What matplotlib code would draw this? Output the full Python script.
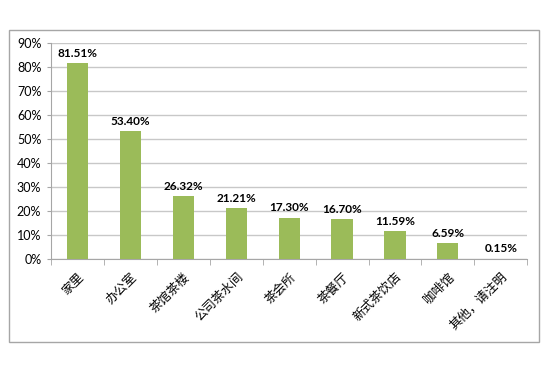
import matplotlib.pyplot as plt
from matplotlib.patches import Rectangle
import numpy as np

# data
categories = ['家里', '办公室', '茶馆茶楼', '公司茶水间', '茶会所', '茶餐厅',
              '新式茶饮店', '咖啡馆', '其他，请注明']
values = [81.51, 53.40, 26.32, 21.21, 17.30, 16.70, 11.59, 6.59, 0.15]
yticks = [0, 10, 20, 30, 40, 50, 60, 70, 80, 90]

bar_color = '#9BBB59'
grid_color = '#C8C8C8'

fig = plt.figure(figsize=(5.5, 3.67), dpi=100)

# outer chart frame
fig.patches.append(Rectangle((0.016, 0.068), 0.964, 0.85, transform=fig.transFigure,
                             fill=False, edgecolor='#A6A6A6', linewidth=1.0))

ax = fig.add_axes([0.0927, 0.294, 0.866, 0.589])
x = np.arange(len(categories))
ax.bar(x, values, width=0.4, color=bar_color, zorder=3)

for xi, v in zip(x, values):
    ax.text(xi, v + 1.8, '%.2f%%' % v, ha='center', va='bottom',
            fontsize=8.5, fontweight='bold', family=['Lato', 'DejaVu Sans'])

ax.set_xlim(-0.5, len(categories) - 0.5)
ax.set_ylim(0, 90)
ax.set_yticks(yticks)
ax.set_yticklabels(['%d%%' % t for t in yticks], family=['Lato', 'DejaVu Sans'], fontsize=9)
ax.yaxis.grid(True, color=grid_color, linewidth=1.0, zorder=0)

ax.set_xticks(x)
ax.set_xticklabels(categories, rotation=45, ha='right', rotation_mode='anchor',
                   family=['Noto Sans CJK SC', 'DejaVu Sans'], fontsize=9)
ax.tick_params(axis='x', which='major', length=0, pad=8)
ax.set_xticks(np.arange(-0.5, len(categories), 1.0), minor=True)
ax.tick_params(axis='x', which='minor', length=4, color='#A6A6A6')
ax.tick_params(axis='y', length=3, color='#A6A6A6', pad=4)

for side in ['top', 'right']:
    ax.spines[side].set_visible(False)
ax.spines['left'].set_color('#A6A6A6')
ax.spines['bottom'].set_color('#A6A6A6')

fig.savefig('out.png', dpi=100)
